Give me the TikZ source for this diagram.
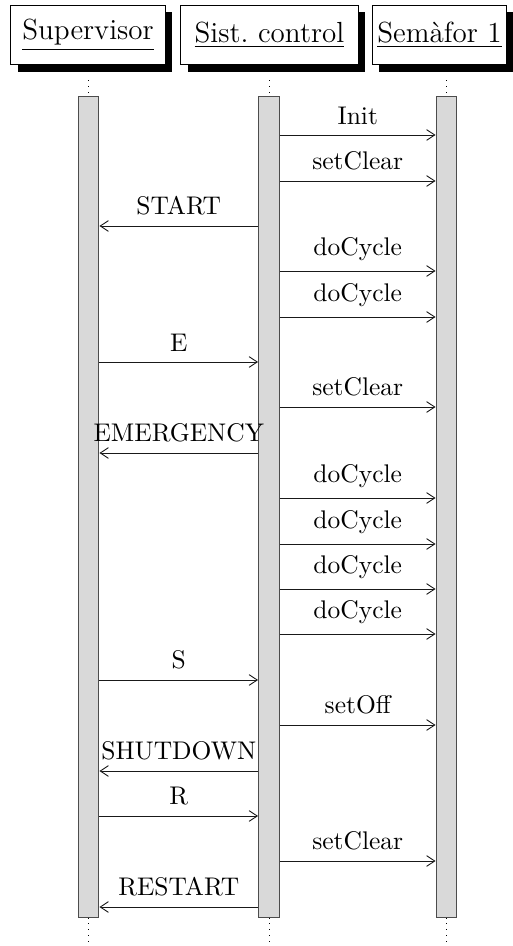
\documentclass[tikz,border=0pt]{standalone}
\usepackage{fontspec}
\usetikzlibrary{shadows,calc,arrows.meta}
\begin{document}
\begin{tikzpicture}[x=0.392pt,y=-0.392pt,
  objbox/.style={draw, line width=0.4pt, fill=white, rectangle, inner sep=0pt,
    minimum height=23.5pt, font=\fontsize{11.4}{13.7}\selectfont,
    drop shadow={shadow xshift=2.75pt, shadow yshift=-2.75pt, fill=black, opacity=1}},
  actbar/.style={draw=black!70, fill=black!15, line width=0.4pt, rectangle, inner sep=0pt,
    minimum width=8.2pt, minimum height=321.5pt},
  life/.style={dotted, line width=0.3pt},
  msg/.style={-{Straight Barb[length=3.2pt,width=4.2pt,line width=0.35pt]}, line width=0.35pt, draw=black!90},
  lbl/.style={above, inner sep=4pt, font=\fontsize{10}{12}\selectfont}]
\useasboundingbox (0,0) rectangle (513,946);
% objects
\node[objbox, minimum width=60.4pt] (sup) at (88,35) {\underline{Supervisor}};
\node[objbox, minimum width=69.4pt] (sc) at (269.5,35) {\underline{Sist.\ control}};
\node[objbox, minimum width=52.9pt] (sem) at (439.5,35) {\underline{Semàfor 1}};
% activation bars
\node[actbar] (b1) at (88.5,507) {};
\node[actbar] (b2) at (269,507) {};
\node[actbar] (b3) at (446.5,507) {};
% lifelines
\foreach \b in {b1,b2,b3}{
  \coordinate (\b top) at ($(\b.north)+(0,-16)$);
  \coordinate (\b bot) at ($(\b.south)+(0,25)$);
  \draw[life] (\b top) -- (\b.north);
  \draw[life] (\b.south) -- (\b bot);
}
% messages
\foreach \y/\a/\b/\t in {
  135/b2.east/b3.west/Init,
  181/b2.east/b3.west/setClear,
  226/b2.west/b1.east/START,
  271/b2.east/b3.west/doCycle,
  317/b2.east/b3.west/doCycle,
  362/b1.east/b2.west/E,
  407/b2.east/b3.west/setClear,
  453/b2.west/b1.east/EMERGENCY,
  498/b2.east/b3.west/doCycle,
  544/b2.east/b3.west/doCycle,
  589/b2.east/b3.west/doCycle,
  634/b2.east/b3.west/doCycle,
  680/b1.east/b2.west/S,
  725/b2.east/b3.west/setOff,
  771/b2.west/b1.east/SHUTDOWN,
  816/b1.east/b2.west/R,
  861/b2.east/b3.west/setClear,
  907/b2.west/b1.east/RESTART}{
  \coordinate (m\y) at (0,\y);
  \draw[msg] (\a |- m\y) -- node[lbl] {\t} (\b |- m\y);
}
\end{tikzpicture}
\end{document}
